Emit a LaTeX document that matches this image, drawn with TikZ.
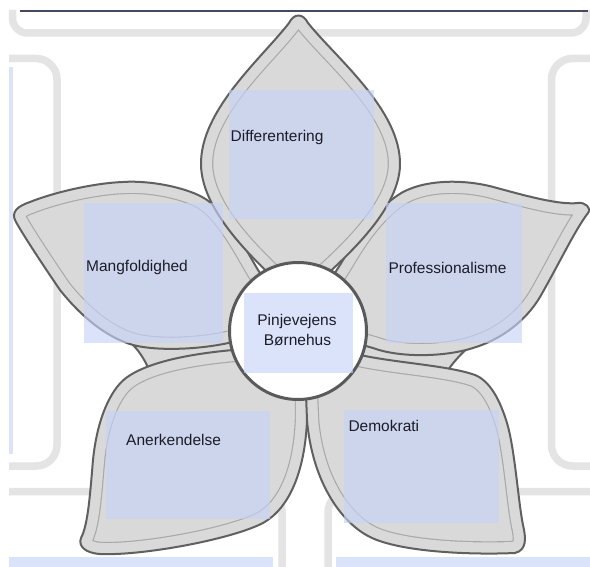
\documentclass[tikz,border=0pt]{standalone}
\usepackage{fontspec}
\setmainfont{Liberation Sans}
\definecolor{framegray}{HTML}{E4E4E4}
\definecolor{lavbase}{HTML}{C7D3F9}
\definecolor{petalgray}{HTML}{D9D9D9}
\definecolor{edgegray}{HTML}{606060}
\definecolor{innergray}{HTML}{A8A8A8}
\definecolor{circgray}{HTML}{5A5A5A}
\definecolor{topline}{HTML}{454A60}
\definecolor{textcol}{HTML}{1C1C28}
\newcommand\flowerpetal[1]{%
  \fill[petalgray] #1;
  \begin{scope}
    \clip #1;
    \draw[innergray, line join=round, line width=24.5pt] #1;
    \draw[petalgray, line join=round, line width=22.2pt] #1;
  \end{scope}
  \draw[petaledge] #1;
}
\tikzset{
  frame/.style={draw=framegray, line width=7.5pt},
  lav/.style={fill=lavbase, fill opacity=0.63},
  petaledge/.style={draw=edgegray, line width=2pt, line join=round},
  lbl/.style={font=\fontsize{15.5}{19}\selectfont, text=textcol, inner sep=0pt},
}
\begin{document}
\begin{tikzpicture}[x=1pt,y=-1pt]
\useasboundingbox (0,0) rectangle (590,567);
\fill[white] (0,0) rectangle (590,567);
% background frames
\draw[frame, rounded corners=15pt] (12.5,10) -- (12.5,33) -- (586,33) -- (586,10);
\draw[frame, rounded corners=21pt] (9,58.5) -- (57,58.5) -- (57,466) -- (9,466);
\draw[frame, rounded corners=21pt] (600,58.5) -- (551.5,58.5) -- (551.5,466) -- (600,466);
\draw[frame, rounded corners=21pt] (9,491.5) -- (282,491.5) -- (282,590);
\draw[frame, rounded corners=21pt] (600,491.5) -- (328,491.5) -- (328,590);
\draw[topline, line width=2.2pt] (19.5,11) -- (588,11);
% lavender strips
\path[lav] (9,67) rectangle (13,454);
\path[lav] (9,557) rectangle (273,570);
\path[lav] (336,557) rectangle (592,570);
% gray wedges between side and bottom petals
\fill[petalgray] (133,345) .. controls (140,352) and (146,362) .. (150,372)
  -- (250,362) -- (250,333) -- (133,340) -- cycle;
\draw[petaledge] (133,345) .. controls (140,352) and (146,362) .. (150,372);
\fill[petalgray] (466,349.5) .. controls (458,357) and (452,364) .. (446,373)
  -- (345,362) -- (345,335) -- (466,342) -- cycle;
\draw[petaledge] (466,349.5) .. controls (458,357) and (452,364) .. (446,373);
% bottom-left petal
\flowerpetal{(290,340) .. controls (270,345) and (255,348) .. (233,350)
  .. controls (200,353) and (150,360) .. (126,378)
  .. controls (110,390) and (97,420) .. (93,460)
  .. controls (90,495) and (88,525) .. (81,538)
  .. controls (78,546) and (85,553) .. (100,554)
  .. controls (140,556) and (230,540) .. (263,523)
  .. controls (290,508) and (305,470) .. (307,420)
  -- (307,395) -- cycle}
% bottom-right petal
\flowerpetal{(306,340) .. controls (325,347) and (345,352) .. (365,356)
  .. controls (400,363) and (450,366) .. (475,375)
  .. controls (490,381) and (500,400) .. (507,423)
  .. controls (515,450) and (518,500) .. (523,525)
  .. controls (526,538) and (527,550) .. (515,553)
  .. controls (470,555) and (400,552) .. (370,537)
  .. controls (340,522) and (312,480) .. (307,420)
  -- (306,395) -- cycle}
% left petal
\flowerpetal{(288,318) .. controls (275,300) and (268,285) .. (258,270)
  .. controls (245,248) and (228,215) .. (207,200)
  .. controls (190,188) and (150,180) .. (123,182)
  .. controls (95,183) and (55,192) .. (30,202)
  .. controls (18,206) and (10,212) .. (16,222)
  .. controls (25,238) and (45,268) .. (60,290)
  .. controls (80,315) and (105,337) .. (133,345)
  .. controls (160,352) and (210,349) .. (240,340)
  .. controls (255,336) and (270,330) .. (288,318) -- cycle}
% right petal
\flowerpetal{(310,318) .. controls (320,300) and (330,280) .. (340,265)
  .. controls (352,245) and (372,210) .. (403,192)
  .. controls (430,178) and (470,180) .. (497,188)
  .. controls (530,197) and (560,205) .. (578,203)
  .. controls (585,202) and (592,208) .. (588,213)
  .. controls (575,230) and (560,262) .. (540,297)
  .. controls (525,322) and (500,340) .. (473,348)
  .. controls (445,357) and (400,358) .. (373,348)
  .. controls (350,342) and (330,332) .. (310,318) -- cycle}
% top petal
\flowerpetal{(298,300) .. controls (262,268) and (202,215) .. (201,165)
  .. controls (200,110) and (262,58) .. (289,23)
  .. controls (294,13) and (303,13) .. (308,23)
  .. controls (336,58) and (401,110) .. (400,165)
  .. controls (399,215) and (334,268) .. (298,300) -- cycle}
% centre circle
\node[circle, draw=circgray, line width=3pt, fill=white, minimum size=137pt, inner sep=0pt] (centre) at (298,331) {};
% lavender text boxes
\path[lav] (228.5,90) rectangle (374,219);
\path[lav] (83.5,203) rectangle (222.5,343);
\path[lav] (386,203.5) rectangle (521.5,343);
\path[lav] (106,410.5) rectangle (270,519);
\path[lav] (344,410) rectangle (499,523);
\path[lav] (243.5,293) rectangle (352.5,373);
% labels
\node[lbl, anchor=base west] (t1) at (230.5,141.5) {Differentering};
\node[lbl, anchor=base west] (t2) at (86,271.7) {Mangfoldighed};
\node[lbl, anchor=base west] (t3) at (388.3,273.2) {Professionalisme};
\node[lbl, anchor=base west] (t4) at (126,445) {Anerkendelse};
\node[lbl, anchor=base west] (t5) at (348.3,431) {Demokrati};
\node[lbl, anchor=base] (t6) at (297,326) {Pinjevejens};
\node[lbl, anchor=base] (t7) at (297.5,345) {Børnehus};
\end{tikzpicture}
\end{document}
